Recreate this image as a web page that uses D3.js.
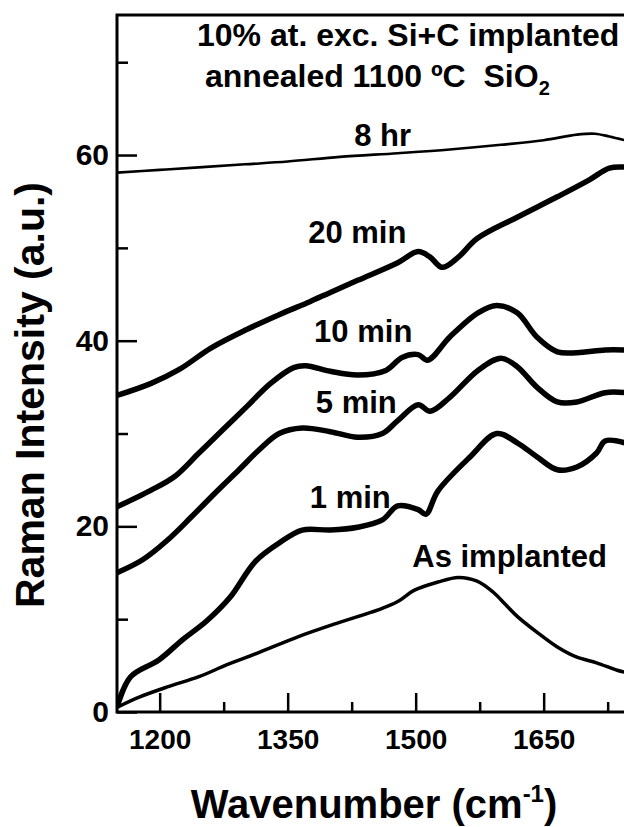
<!DOCTYPE html>
<html>
<head>
<meta charset="utf-8">
<script src="https://cdn.jsdelivr.net/npm/d3@7"></script>
<style>
  html, body { margin: 0; padding: 0; background: #fff; }
  svg { display: block; }
  text { font-family: "Liberation Sans", Arial, sans-serif; font-weight: bold; fill: #000; }
</style>
</head>
<body>
<svg id="chart" width="624" height="827"></svg>
<script>
// ---------- data ----------
const xMajorTicks = [1200, 1350, 1500, 1650];
const xMinorTicks = [1275, 1425, 1575, 1725];
const yMajorTicks = [0, 20, 40, 60];
const yMinorTicks = [10, 30, 50, 70];

const hr8 = [[1150,58.1],[1200,58.4],[1250,58.7],[1300,59.0],[1350,59.3],[1411,59.8],[1479,60.2],[1540,60.6],[1600,61.1],[1650,61.6],[1689,62.2],[1710,62.3],[1727,62.0],[1745,61.6]];
const min20 = [[1150,34.1],[1190,35.4],[1223,36.9],[1260,39.2],[1302,41.2],[1340,42.8],[1376,44.2],[1400,45.2],[1432,46.5],[1479,48.4],[1503,49.6],[1517,49.0],[1531,47.9],[1550,49.0],[1572,51.0],[1619,53.3],[1666,55.5],[1703,57.3],[1727,58.6],[1745,58.7]];
const min10 = [[1150,22.1],[1190,23.9],[1218,25.4],[1246,27.9],[1274,30.4],[1302,32.9],[1330,35.4],[1357,37.1],[1371,37.3],[1400,36.7],[1432,36.3],[1465,36.8],[1484,38.2],[1503,38.5],[1514,37.9],[1540,40.4],[1573,43.0],[1595,43.8],[1619,43.0],[1642,40.4],[1666,38.8],[1689,38.7],[1722,39.0],[1745,39.0]];
const min5 = [[1150,15.0],[1180,16.4],[1209,18.5],[1237,21.0],[1265,23.6],[1293,26.1],[1316,28.2],[1340,30.0],[1367,30.6],[1400,30.2],[1432,29.6],[1461,30.0],[1479,31.4],[1503,33.1],[1517,32.4],[1540,33.9],[1573,36.8],[1600,38.1],[1619,37.2],[1642,35.0],[1666,33.4],[1689,33.4],[1722,34.4],[1745,34.4]];
const min1 = [[1150,0.5],[1166,3.8],[1199,5.6],[1227,7.8],[1255,9.8],[1282,12.3],[1312,16.2],[1340,18.2],[1367,19.6],[1400,19.6],[1432,19.9],[1461,20.7],[1479,22.2],[1503,21.8],[1512,21.3],[1526,23.8],[1564,27.5],[1595,30.0],[1619,29.0],[1642,27.5],[1666,26.1],[1689,26.4],[1712,27.9],[1722,29.2],[1745,29.0]];
const asImpl = [[1150,0.5],[1176,1.6],[1209,2.7],[1246,3.8],[1279,5.1],[1316,6.4],[1362,8.1],[1409,9.6],[1456,11.0],[1479,11.9],[1498,13.1],[1526,14.0],[1550,14.5],[1572,14.1],[1591,12.9],[1605,11.6],[1619,10.3],[1642,8.6],[1666,7.0],[1689,5.9],[1712,5.3],[1736,4.5],[1745,4.3]];

const seriesNames = ["8 hr", "20 min", "10 min", "5 min", "1 min", "As implanted"];
const seriesData = [hr8, min20, min10, min5, min1, asImpl];
const labelPos = [[1428,61.0],[1374,50.5],[1381,39.9],[1383,32.2],[1376,22.0],[1496,15.6]]; // [wavenumber, intensity] of label start/baseline

// ---------- drawing ----------
const svg = d3.select("#chart");
svg.append("rect").attr("width", 624).attr("height", 827).attr("fill", "#fff");

const x = d3.scaleLinear().domain([1150, 1750]).range([117, 629]);
const y = d3.scaleLinear().domain([0, 75]).range([712, 15.8]);

const widths = [2.6, 5.5, 5.5, 5.5, 5.5, 3.5];
const line = d3.line().x(d => x(d[0])).y(d => y(d[1])).curve(d3.curveCatmullRom.alpha(0.5));

svg.append("clipPath").attr("id", "clip")
  .append("rect").attr("x", 117).attr("y", 15).attr("width", 520).attr("height", 697);

const g = svg.append("g").attr("clip-path", "url(#clip)");
seriesData.forEach((s, i) => {
  g.append("path").datum(s).attr("d", line)
    .attr("fill", "none").attr("stroke", "#000")
    .attr("stroke-width", widths[i]).attr("stroke-linejoin", "round");
});

const fam = "'Liberation Sans', Arial, sans-serif";

// x axis
const xAxis = d3.axisBottom(x).tickValues(xMajorTicks).tickSize(-19).tickPadding(17).tickFormat(d3.format("d"));
const gx = svg.append("g").attr("transform", "translate(0,712)").call(xAxis);
gx.select(".domain").remove();
gx.selectAll("line").attr("stroke", "#000").attr("stroke-width", 2.5);
gx.selectAll("text").style("font-size", "28px").style("font-family", fam).style("font-weight", "bold");
const gxm = svg.append("g").attr("transform", "translate(0,712)")
  .call(d3.axisBottom(x).tickValues(xMinorTicks).tickSize(-10).tickFormat(""));
gxm.select(".domain").remove();
gxm.selectAll("line").attr("stroke", "#000").attr("stroke-width", 2.5);

// y axis
const yAxis = d3.axisLeft(y).tickValues(yMajorTicks).tickSize(-20).tickPadding(8);
const gy = svg.append("g").attr("transform", "translate(117,0)").call(yAxis);
gy.select(".domain").remove();
gy.selectAll("line").attr("stroke", "#000").attr("stroke-width", 2.5);
gy.selectAll("text").style("font-size", "30px").style("font-family", fam).style("font-weight", "bold");
const gym = svg.append("g").attr("transform", "translate(117,0)")
  .call(d3.axisLeft(y).tickValues(yMinorTicks).tickSize(-11).tickFormat(""));
gym.select(".domain").remove();
gym.selectAll("line").attr("stroke", "#000").attr("stroke-width", 2.5);

// frame (right edge falls outside the page, as in the cropped reference)
svg.append("rect").attr("x", 117).attr("y", 15).attr("width", 515).attr("height", 697)
  .attr("fill", "none").attr("stroke", "#000").attr("stroke-width", 3);

// series labels
seriesNames.forEach((n, i) => {
  svg.append("text").attr("x", x(labelPos[i][0])).attr("y", y(labelPos[i][1]))
    .style("font-size", "31px").text(n);
});

// annotation
svg.append("text").attr("x", 197).attr("y", 46).style("font-size", "32px")
  .text("10% at. exc. Si+C implanted");
const t2 = svg.append("text").attr("x", 205).attr("y", 87).style("font-size", "32px").style("white-space", "pre");
t2.append("tspan").text("annealed 1100 ºC  SiO");
t2.append("tspan").attr("dy", 8).style("font-size", "20px").text("2");

// axis titles
const xt = svg.append("text").attr("x", 374).attr("y", 818).attr("text-anchor", "middle").style("font-size", "40px");
xt.append("tspan").text("Wavenumber (cm");
xt.append("tspan").attr("dy", -16).style("font-size", "24px").text("-1");
xt.append("tspan").attr("dy", 16).text(")");

svg.append("text").attr("transform", "translate(44,395) rotate(-90)").attr("text-anchor", "middle")
  .style("font-size", "41px").text("Raman Intensity (a.u.)");
</script>
</body>
</html>
